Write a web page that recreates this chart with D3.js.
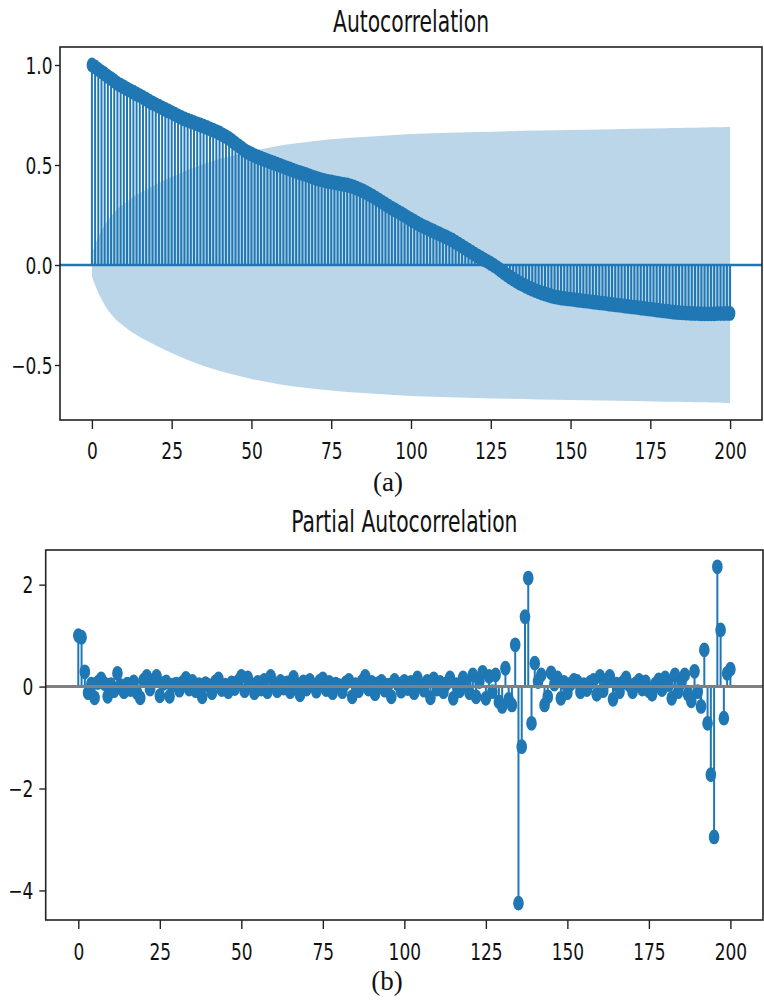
<!DOCTYPE html>
<html>
<head>
<meta charset="utf-8">
<script src="https://cdn.jsdelivr.net/npm/d3@7"></script>
<style>
  body { margin: 0; background: #fff; }
  svg { display: block; }
</style>
</head>
<body>
<svg id="fig" width="764" height="1006"></svg>
<script>
// ---------------- data ----------------
// Autocorrelation, lags 0..200 (index = lag)
const acfValues = [
  1.000, 0.990, 0.978, 0.966, 0.955, 0.943, 0.932, 0.920, 0.908, 0.899,
  0.890, 0.881, 0.872, 0.864, 0.855, 0.847, 0.838, 0.829, 0.819, 0.810,
  0.802, 0.794, 0.786, 0.778, 0.770, 0.762, 0.754, 0.746, 0.738, 0.730,
  0.724, 0.718, 0.712, 0.706, 0.700, 0.694, 0.688, 0.681, 0.674, 0.667,
  0.660, 0.651, 0.642, 0.632, 0.620, 0.608, 0.596, 0.584, 0.572, 0.563,
  0.555, 0.547, 0.540, 0.534, 0.528, 0.522, 0.516, 0.510, 0.504, 0.498,
  0.492, 0.486, 0.480, 0.474, 0.468, 0.463, 0.458, 0.453, 0.447, 0.441,
  0.435, 0.430, 0.426, 0.422, 0.418, 0.415, 0.412, 0.409, 0.406, 0.403,
  0.400, 0.396, 0.391, 0.384, 0.377, 0.370, 0.362, 0.353, 0.344, 0.334,
  0.324, 0.314, 0.304, 0.294, 0.284, 0.275, 0.266, 0.257, 0.247, 0.237,
  0.228, 0.219, 0.209, 0.200, 0.192, 0.185, 0.177, 0.170, 0.162, 0.155,
  0.147, 0.140, 0.132, 0.124, 0.114, 0.104, 0.094, 0.084, 0.074, 0.064,
  0.054, 0.044, 0.035, 0.026, 0.017, 0.008, -0.002, -0.013, -0.025, -0.037,
  -0.049, -0.060, -0.070, -0.080, -0.090, -0.098, -0.106, -0.114, -0.121, -0.128,
  -0.134, -0.140, -0.145, -0.150, -0.155, -0.159, -0.162, -0.165, -0.167, -0.169,
  -0.171, -0.173, -0.175, -0.177, -0.179, -0.181, -0.183, -0.185, -0.187, -0.189,
  -0.191, -0.193, -0.195, -0.197, -0.199, -0.201, -0.203, -0.205, -0.207, -0.209,
  -0.211, -0.213, -0.215, -0.217, -0.219, -0.221, -0.223, -0.225, -0.227, -0.229,
  -0.231, -0.233, -0.235, -0.237, -0.238, -0.239, -0.240, -0.241, -0.242, -0.243,
  -0.243, -0.244, -0.244, -0.244, -0.244, -0.244, -0.243, -0.243, -0.243, -0.242,
  -0.242
];

// Confidence band half-width of the autocorrelation, sampled by lag
const bandLags  = [0, 1, 2, 3, 4, 5, 6, 8, 10, 12, 15, 18, 21, 25, 30, 35, 40, 45, 50, 55, 60, 70, 80, 90, 100, 120, 140, 160, 180, 200];
const bandWidth = [0.06, 0.10, 0.14, 0.17, 0.20, 0.225, 0.245, 0.28, 0.305, 0.33, 0.36, 0.385, 0.41, 0.44, 0.475, 0.505, 0.53, 0.55, 0.57, 0.585, 0.60, 0.62, 0.635, 0.645, 0.655, 0.665, 0.672, 0.678, 0.684, 0.69];

// Partial autocorrelation, lags 0..200 (index = lag)
const pacfValues = [
  1.00, 0.97, 0.29, -0.12, 0.05, -0.22, 0.08, 0.15, 0.06, -0.19,
  0.04, -0.08, 0.26, 0.02, -0.10, 0.05, -0.06, 0.09, -0.12, -0.22,
  0.12, 0.20, -0.05, 0.10, 0.20, -0.18, 0.06, 0.09, -0.19, 0.03,
  0.05, -0.07, 0.08, 0.16, -0.05, 0.10, -0.08, 0.04, -0.20, 0.06,
  0.02, -0.12, 0.09, 0.15, -0.06, 0.03, -0.10, 0.07, -0.04, 0.10,
  0.20, -0.08, 0.17, 0.04, -0.12, 0.08, -0.05, 0.12, -0.10, 0.20,
  0.05, -0.08, 0.10, -0.03, 0.07, -0.10, 0.18, 0.04, -0.16, 0.09,
  -0.05, 0.12, 0.03, -0.09, 0.10, 0.15, -0.06, 0.08, -0.12, 0.05,
  0.02, -0.10, 0.07, 0.12, -0.20, 0.04, -0.08, 0.10, 0.20, -0.05,
  0.08, -0.14, 0.06, 0.10, -0.07, 0.03, -0.20, 0.12, 0.05, -0.09,
  0.10, -0.04, 0.08, -0.12, 0.17, 0.02, -0.07, 0.10, -0.22, 0.15,
  -0.05, 0.08, -0.10, 0.06, 0.17, -0.23, 0.04, -0.08, 0.17, 0.05,
  -0.12, 0.23, -0.20, 0.10, 0.28, -0.23, 0.20, -0.10, 0.23, -0.30,
  -0.39, 0.36, -0.25, -0.36, 0.82, -4.25, -1.18, 1.37, 2.13, -0.72,
  0.46, 0.10, 0.23, -0.36, -0.20, 0.27, 0.05, 0.17, -0.23, 0.08,
  -0.12, 0.05, 0.12, 0.10, -0.10, 0.04, -0.06, 0.08, 0.12, -0.15,
  0.20, -0.08, 0.10, 0.20, -0.25, 0.05, -0.10, 0.08, 0.17, 0.03,
  -0.10, 0.06, 0.12, -0.05, 0.09, -0.08, -0.15, 0.05, 0.13, -0.06,
  0.17, 0.04, -0.23, 0.23, -0.10, 0.08, 0.23, -0.15, -0.28, 0.30,
  -0.10, -0.39, 0.72, -0.72, -1.73, -2.95, 2.35, 1.11, -0.62, 0.26,
  0.34
];

const xTicks      = [0, 25, 50, 75, 100, 125, 150, 175, 200];
const acfYTicks   = [-0.5, 0.0, 0.5, 1.0];
const acfYLabels  = ["\u22120.5", "0.0", "0.5", "1.0"];
const pacfYTicks  = [-4, -2, 0, 2];
const pacfYLabels = ["\u22124", "\u22122", "0", "2"];

// ---------------- drawing ----------------
const BLUE = "#1f77b4";
const svg = d3.select("#fig");
const FONT = "'DejaVu Sans', sans-serif";

// narrow the glyphs horizontally around their anchor point
function squeeze(sel, sx) {
  sel.each(function () {
    const t = d3.select(this);
    const x = +t.attr("x") || 0;
    const y = +t.attr("y") || 0;
    t.attr("x", null).attr("y", null)
      .attr("transform", `translate(${x},${y}) scale(${sx},1)`);
  });
}

function drawPanel(o) {
  const g = svg.append("g");
  const x = d3.scaleLinear().domain(o.xDomain).range([o.left, o.right]);
  const y = d3.scaleLinear().domain(o.yDomain).range([o.bottom, o.top]);

  // confidence band
  if (o.band) {
    const pts = o.band.lags.map((l, i) => ({ lag: l, w: o.band.w[i] }));
    g.append("path")
      .datum(pts)
      .attr("fill", BLUE)
      .attr("fill-opacity", 0.3)
      .attr("d", d3.area()
        .x(d => x(d.lag))
        .y0(d => y(-d.w))
        .y1(d => y(d.w))
        .curve(d3.curveCatmullRom.alpha(0.5)));
  }

  const data = o.values.map((v, i) => ({ lag: i, v }));

  // stems
  g.append("g").selectAll("line")
    .data(data).join("line")
    .attr("x1", d => x(d.lag)).attr("x2", d => x(d.lag))
    .attr("y1", y(0)).attr("y2", d => y(d.v))
    .attr("stroke", BLUE).attr("stroke-width", o.stemWidth);

  // markers
  g.append("g").selectAll("ellipse")
    .data(data).join("ellipse")
    .attr("cx", d => x(d.lag)).attr("cy", d => y(d.v))
    .attr("rx", 5.3).attr("ry", 7.4)
    .attr("fill", BLUE);

  // zero line
  g.append("line")
    .attr("x1", o.left).attr("x2", o.right)
    .attr("y1", y(0)).attr("y2", y(0))
    .attr("stroke", o.zeroColor).attr("stroke-width", o.zeroWidth);

  // frame
  g.append("rect")
    .attr("x", o.left).attr("y", o.top)
    .attr("width", o.right - o.left).attr("height", o.bottom - o.top)
    .attr("fill", "none").attr("stroke", "#222").attr("stroke-width", 1.6);

  // x axis
  const gx = g.append("g")
    .attr("transform", `translate(0,${o.bottom})`)
    .call(d3.axisBottom(x).tickValues(xTicks).tickSize(9).tickFormat(d3.format("d")));
  gx.select(".domain").remove();
  gx.selectAll(".tick line").attr("stroke", "#222").attr("stroke-width", 1.4);
  gx.selectAll(".tick text")
    .attr("y", o.xLabelBase).attr("dy", null)
    .attr("fill", "#111").style("font", `${o.tickFont}px ${FONT}`);
  squeeze(gx.selectAll(".tick text"), o.tickSx);

  // y axis
  const gy = g.append("g")
    .attr("transform", `translate(${o.left},0)`)
    .call(d3.axisLeft(y).tickValues(o.yTicks).tickSize(o.yTickLen)
      .tickFormat((d, i) => o.yLabels[i]));
  gy.select(".domain").remove();
  gy.selectAll(".tick line").attr("stroke", "#222").attr("stroke-width", 1.4);
  gy.selectAll(".tick text")
    .attr("x", -o.yLabelGap).attr("dy", "0.36em")
    .attr("fill", "#111").style("font", `${o.tickFont}px ${FONT}`);
  squeeze(gy.selectAll(".tick text"), o.tickSx);

  // title
  const t = g.append("text")
    .attr("x", (o.left + o.right) / 2).attr("y", o.titleBase)
    .attr("text-anchor", "middle")
    .attr("fill", "#111")
    .style("font", `31px ${FONT}`)
    .text(o.title);
  squeeze(t, 0.655);

  // caption
  g.append("text")
    .attr("x", o.capX).attr("y", o.capBase)
    .attr("text-anchor", "middle")
    .attr("fill", "#111")
    .style("font", "27px 'Liberation Serif', 'DejaVu Serif', serif")
    .text(o.caption);
}

drawPanel({
  values: acfValues,
  band: { lags: bandLags, w: bandWidth },
  xDomain: [-10, 210], yDomain: [-0.775, 1.09],
  left: 60, right: 762, top: 47, bottom: 420,
  stemWidth: 2, zeroColor: BLUE, zeroWidth: 2.6,
  yTicks: acfYTicks, yLabels: acfYLabels, yTickLen: 5, yLabelGap: 7.5,
  xLabelBase: 39, tickFont: 23, tickSx: 0.74,
  title: "Autocorrelation", titleBase: 32,
  caption: "(a)", capX: 388, capBase: 491
});

drawPanel({
  values: pacfValues,
  band: null,
  xDomain: [-10, 210], yDomain: [-4.58, 2.68],
  left: 45.7, right: 763, top: 550, bottom: 920,
  stemWidth: 2, zeroColor: "#808080", zeroWidth: 3,
  yTicks: pacfYTicks, yLabels: pacfYLabels, yTickLen: 6.4, yLabelGap: 12.4,
  xLabelBase: 40, tickFont: 23, tickSx: 0.74,
  title: "Partial Autocorrelation", titleBase: 532,
  caption: "(b)", capX: 387, capBase: 990
});
</script>
</body>
</html>
